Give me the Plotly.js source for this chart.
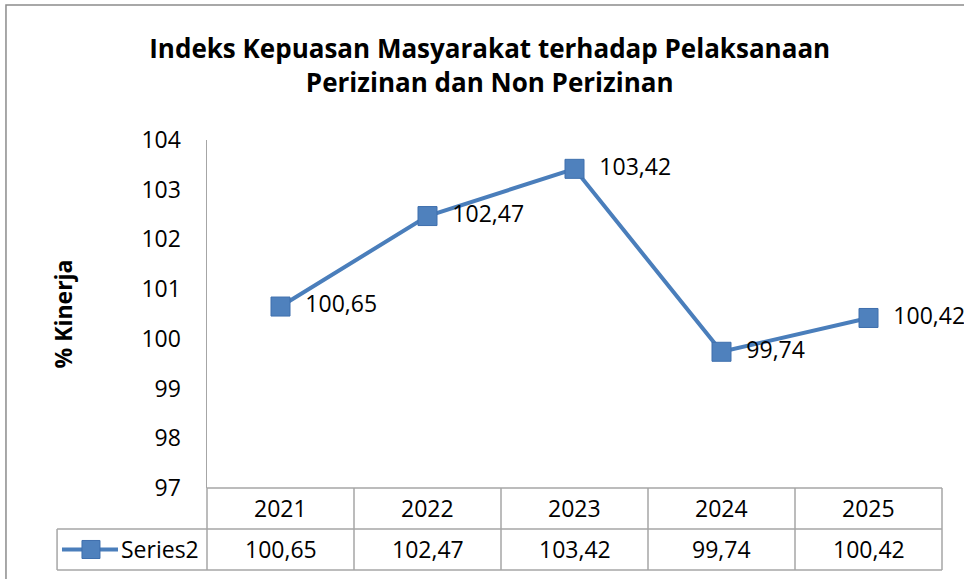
<!DOCTYPE html>
<html>
<head>
<meta charset="utf-8">
<script src="https://cdn.plot.ly/plotly-3.0.1.min.js"></script>
<style>html,body{margin:0;padding:0;background:#fff;}#chart{width:964px;height:579px;}</style>
</head>
<body>
<div id="chart"></div>
<script>
const years = ['2021', '2022', '2023', '2024', '2025'];
const values = [100.65, 102.47, 103.42, 99.74, 100.42];
const seriesName = 'Series2';
const yTicks = [97, 98, 99, 100, 101, 102, 103, 104];

const fmt = v => v.toFixed(2).replace('.', ',');
const FONT = '"Open Sans", "Noto Sans", sans-serif';
const GRID = '#a6a6a6';
const LINE = '#4A7EBB';
const MARK = '#4F81BD';

const trace = {
  type: 'scatter',
  mode: 'lines+markers+text',
  x: years,
  y: values,
  name: seriesName,
  text: values.map(v => '  ' + fmt(v)),
  textposition: 'middle right',
  textfont: {family: FONT, size: 23, color: '#000'},
  line: {color: LINE, width: 4},
  marker: {symbol: 'square', size: 19, color: MARK, line: {color: '#3E6FAD', width: 1}},
  cliponaxis: false,
  hoverinfo: 'skip'
};

// table geometry (paper coords relative to plot area)
const rowTop = 0, rowMid = -0.1178, rowBot = -0.2356, tableLeft = -0.204;
const shapes = [];
const gl = {color: GRID, width: 1.5};
shapes.push({type: 'line', xref: 'paper', yref: 'paper', x0: 0, x1: 1, y0: rowTop, y1: rowTop, line: gl});
shapes.push({type: 'line', xref: 'paper', yref: 'paper', x0: tableLeft, x1: 1, y0: rowMid, y1: rowMid, line: gl});
shapes.push({type: 'line', xref: 'paper', yref: 'paper', x0: tableLeft, x1: 1, y0: rowBot, y1: rowBot, line: gl});
shapes.push({type: 'line', xref: 'paper', yref: 'paper', x0: tableLeft, x1: tableLeft, y0: rowMid, y1: rowBot, line: gl});
shapes.push({type: 'line', xref: 'paper', yref: 'paper', x0: 0, x1: 0, y0: rowTop, y1: rowBot, line: gl});
shapes.push({type: 'line', xref: 'paper', yref: 'paper', x0: 1, x1: 1, y0: rowTop, y1: rowBot, line: gl});
for (let i = 0; i < years.length - 1; i++) {
  shapes.push({type: 'line', xref: 'x', yref: 'paper', x0: i + 0.5, x1: i + 0.5, y0: rowTop, y1: rowBot, line: gl});
}
// outer chart border
shapes.push({type: 'rect', xref: 'paper', yref: 'paper', x0: -0.2735, x1: 1.2, y0: -0.5, y1: 1.388, line: {color: '#8c8c8c', width: 1.5}, layer: 'below'});
// legend key in the table
const keyY = (rowMid + rowBot) / 2;
shapes.push({type: 'line', xref: 'paper', yref: 'paper', x0: -0.1973, x1: -0.1211, y0: keyY, y1: keyY, line: {color: LINE, width: 4}});
shapes.push({type: 'rect', xref: 'paper', yref: 'paper', x0: -0.1701, x1: -0.1456, y0: keyY - 0.0259, y1: keyY + 0.0259, fillcolor: MARK, line: {color: '#3E6FAD', width: 1}});

const annotations = [];
years.forEach((yr, i) => {
  annotations.push({xref: 'x', yref: 'paper', x: i, y: (rowTop + rowMid) / 2, yanchor: 'middle', xanchor: 'center', text: yr, showarrow: false, font: {family: FONT, size: 23, color: '#000'}});
  annotations.push({xref: 'x', yref: 'paper', x: i, y: keyY, yanchor: 'middle', xanchor: 'center', text: fmt(values[i]), showarrow: false, font: {family: FONT, size: 23, color: '#000'}});
});
annotations.push({xref: 'paper', yref: 'paper', x: -0.1195, y: keyY, xanchor: 'left', yanchor: 'middle', text: seriesName, showarrow: false, font: {family: FONT, size: 23, color: '#000'}});

const layout = {
  width: 964, height: 579,
  margin: {l: 207, r: 22, t: 140, b: 91},
  paper_bgcolor: '#fff', plot_bgcolor: '#fff',
  showlegend: false,
  title: {
    text: 'Indeks Kepuasan Masyarakat terhadap Pelaksanaan<br>Perizinan dan Non Perizinan',
    font: {family: FONT, size: 26, color: '#000', weight: 'bold'},
    x: 0.508, xref: 'container', xanchor: 'center',
    y: 0.9, yref: 'container', yanchor: 'top'
  },
  xaxis: {
    type: 'category',
    range: [-0.5, years.length - 0.5],
    showticklabels: false, ticks: '', showgrid: false, zeroline: false,
    showline: false, fixedrange: true
  },
  yaxis: {
    range: [97, 104],
    tickvals: yTicks,
    ticktext: yTicks.map(String),
    tickfont: {family: FONT, size: 23, color: '#000'},
    ticks: 'outside', ticklen: 20, tickcolor: 'rgba(0,0,0,0)',
    showgrid: false, zeroline: false,
    showline: true, linecolor: GRID, linewidth: 1.5,
    title: {text: '% Kinerja', font: {family: FONT, size: 23, color: '#000', weight: 'bold'}, standoff: 62},
    automargin: false, fixedrange: true
  },
  shapes: shapes,
  annotations: annotations
};

Plotly.newPlot('chart', [trace], layout, {displayModeBar: false, staticPlot: true});
</script>
</body>
</html>
